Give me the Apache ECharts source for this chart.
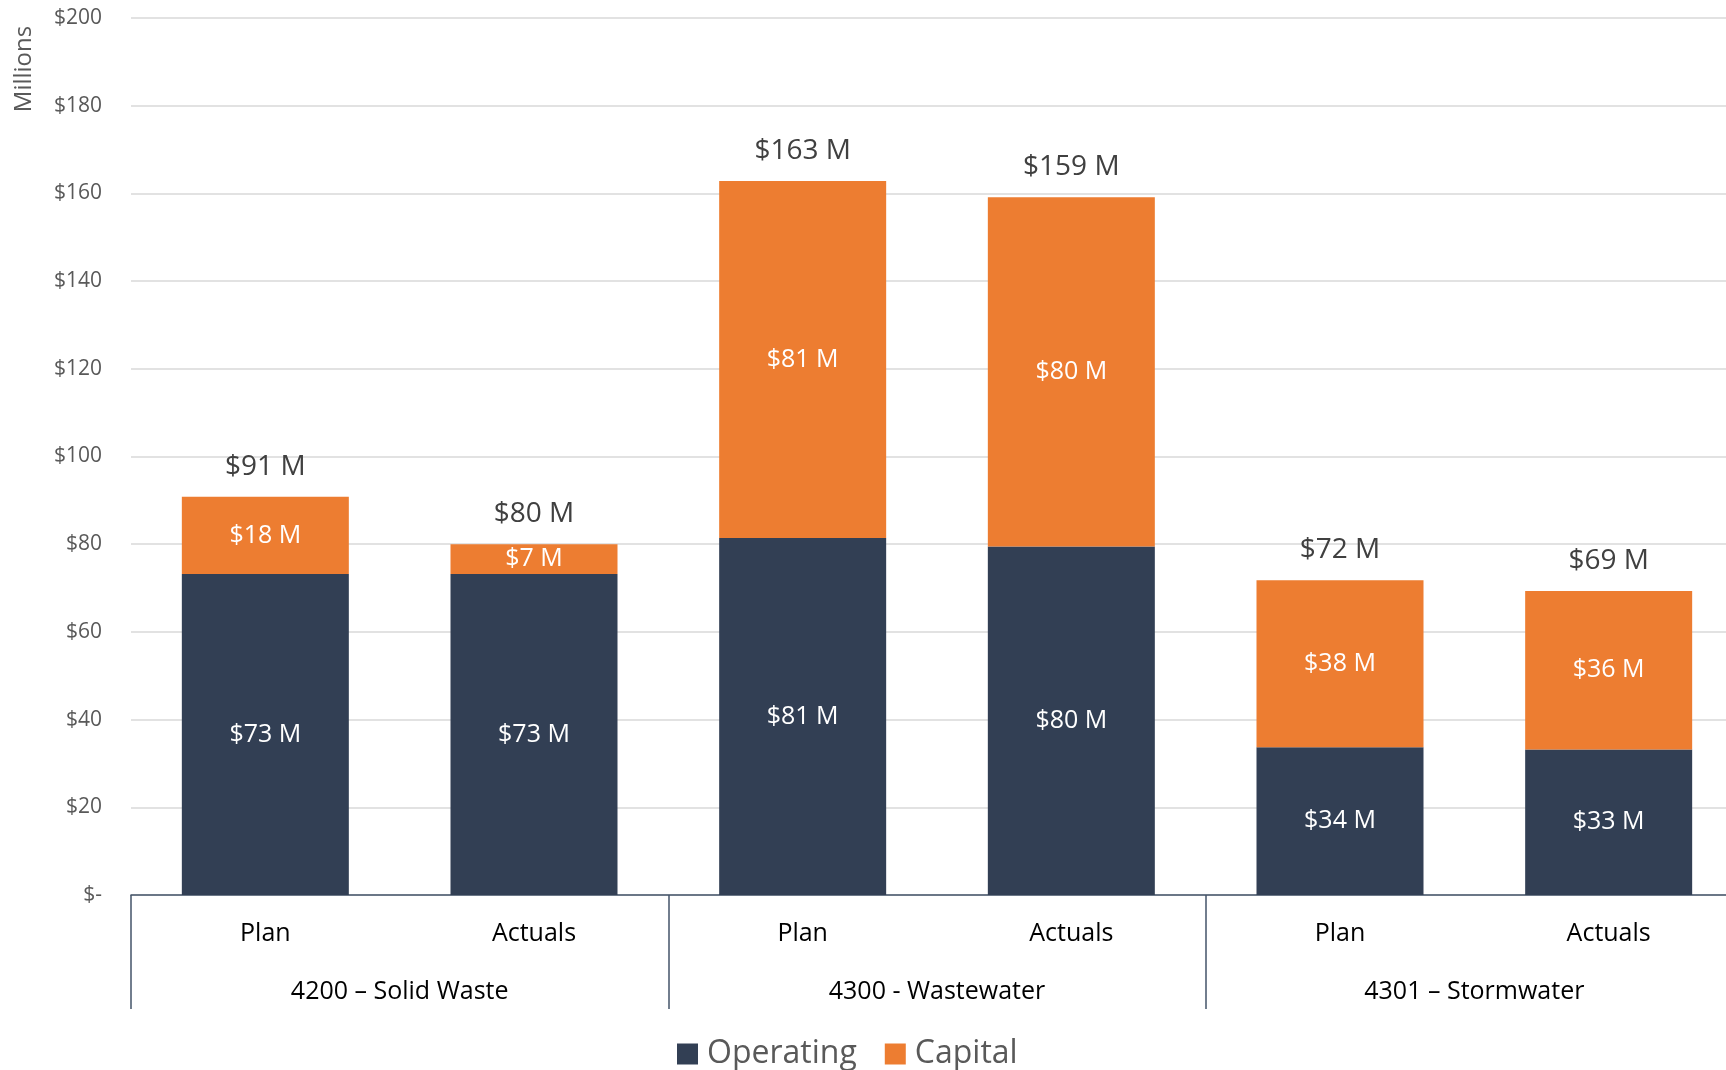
<!DOCTYPE html>
<html>
<head>
<meta charset="utf-8">
<script src="https://cdn.jsdelivr.net/npm/echarts@6/dist/echarts.min.js"></script>
<style>
html,body{margin:0;padding:0;background:#fff;overflow:hidden;}
#chart{width:1760px;height:1070px;}
</style>
</head>
<body>
<div id="chart"></div>
<script>
const categories = ['Plan', 'Actuals', 'Plan', 'Actuals', 'Plan', 'Actuals'];
const groups = ['4200 – Solid Waste', '4300 - Wastewater', '4301 – Stormwater'];
const operating = [73.2, 73.2, 81.4, 79.5, 33.7, 33.2];
const capital = [17.6, 6.8, 81.4, 79.6, 38.1, 36.1];
const yTicks = { min: 0, max: 200, interval: 20 };

const totals = operating.map((v, i) => v + capital[i]);
const FONT = 'Open Sans';
const fmtM = v => '$' + Math.round(v) + ' M';

const chart = echarts.init(document.getElementById('chart'));
chart.setOption({
  animation: false,
  textStyle: { fontFamily: FONT },
  grid: { left: 131, top: 18, width: 1612, height: 877, containLabel: false },
  legend: {
    data: ['Operating', 'Capital'],
    left: 672, top: 1033,
    icon: 'rect', itemWidth: 21, itemHeight: 21, itemGap: 28,
    textStyle: { fontSize: 32, color: '#595959', fontFamily: FONT, padding: [0, 0, 0, 4] }
  },
  graphic: [{
    type: 'text', x: 24, y: 69, rotation: Math.PI / 2,
    style: { text: 'Millions', fontSize: 24, fill: '#595959', fontFamily: FONT,
      align: 'center', verticalAlign: 'middle' }
  }],
  xAxis: [{
    type: 'category', data: categories, position: 'bottom',
    axisLine: { show: true, lineStyle: { color: '#44546A', width: 1.5 } },
    axisTick: { show: false },
    axisLabel: { margin: 26, fontSize: 25, color: '#000', fontFamily: FONT, interval: 0 },
    splitLine: { show: false }
  }, {
    type: 'category', data: groups, position: 'bottom', gridIndex: 0,
    axisLine: { show: false },
    axisTick: { show: true, length: 114, interval: 0, lineStyle: { color: '#44546A', width: 1.5 } },
    axisLabel: { margin: 84, fontSize: 25, color: '#000', fontFamily: FONT, interval: 0 },
    splitLine: { show: false }
  }],
  yAxis: {
    type: 'value', min: yTicks.min, max: yTicks.max, interval: yTicks.interval,
    axisLine: { show: false }, axisTick: { show: false },
    axisLabel: { margin: 29, fontSize: 21, color: '#595959', fontFamily: FONT,
      formatter: v => v === 0 ? '$-' : '$' + v },
    splitLine: { lineStyle: { color: '#D9D9D9', width: 1.5 } }
  },
  series: [{
    name: 'Operating', type: 'bar', stack: 'a', data: operating, barWidth: 167,
    itemStyle: { color: '#323F54' },
    label: { show: true, position: 'inside', color: '#fff', fontSize: 25, fontFamily: FONT,
      formatter: p => fmtM(p.value) }
  }, {
    name: 'Capital', type: 'bar', stack: 'a', data: capital, barWidth: 167,
    itemStyle: { color: '#ED7D31' },
    label: { show: true, position: 'inside', color: '#fff', fontSize: 25, fontFamily: FONT,
      formatter: p => fmtM(p.value) }
  }, {
    name: 'Total', type: 'bar', data: totals, barWidth: 167, barGap: '-100%',
    itemStyle: { color: 'rgba(0,0,0,0)' }, silent: true, z: 1,
    label: { show: true, position: 'top', distance: 16, color: '#404040', fontSize: 28, fontFamily: FONT,
      formatter: p => fmtM(p.value) }
  }]
});
</script>
</body>
</html>
